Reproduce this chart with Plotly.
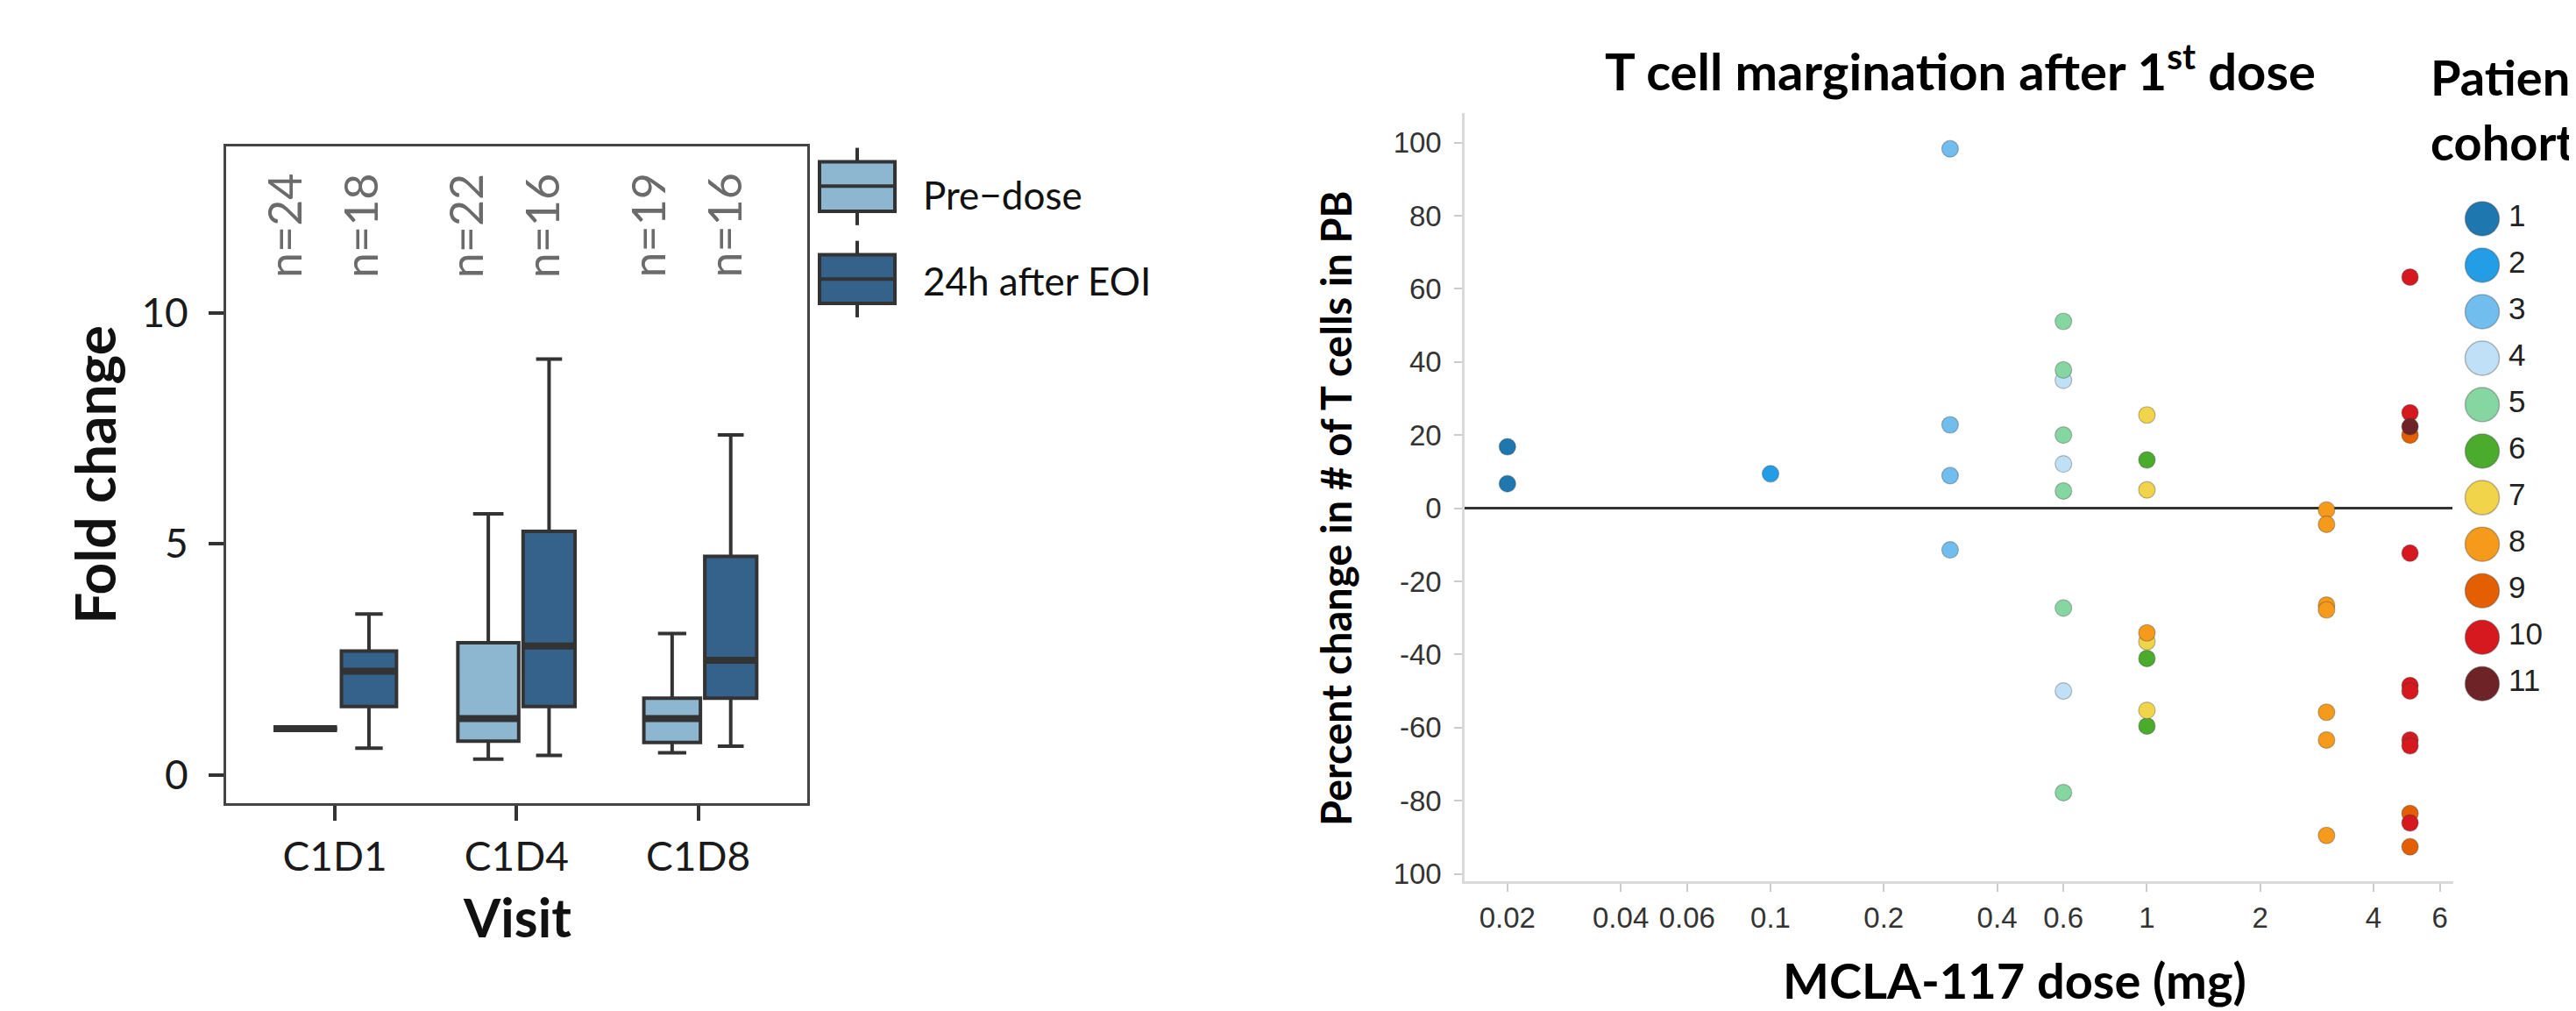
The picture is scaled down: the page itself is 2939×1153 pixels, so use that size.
import numpy as np
import plotly.graph_objects as go

W, H = 2939, 1153

# ---------------- Left panel data (box summaries) ----------------
visits = ["C1D1", "C1D4", "C1D8"]
group_names = ["Pre\u2212dose", "24h after EOI"]
n_pre = [24, 22, 19]
n_post = [18, 16, 16]
pre_lower = [1.0, 0.34, 0.48]
pre_q1 = [1.0, 0.73, 0.70]
pre_median = [1.0, 1.22, 1.22]
pre_q3 = [1.0, 2.86, 1.66]
pre_upper = [1.0, 5.65, 3.06]
post_lower = [0.58, 0.42, 0.62]
post_q1 = [1.48, 1.48, 1.66]
post_median = [2.245, 2.79, 2.48]
post_q3 = [2.68, 5.27, 4.73]
post_upper = [3.48, 9.0, 7.36]
fold_ticks = [0, 5, 10]

# ---------------- Right panel data (scatter) ----------------
cohorts = [1, 2, 3, 4, 5, 6, 7, 8, 9, 10, 11]
cohort_colors = ["#1f77b0", "#239ee6", "#70bdee", "#bfe0f7", "#86d6a2", "#4bab2c",
                 "#f2d44a", "#f69a1c", "#e35f02", "#d6191f", "#6e2426"]
point_cohort = [1, 1,
                2,
                3, 3, 3, 3,
                4, 4, 4,
                5, 5, 5, 5, 5, 5,
                6, 6, 6,
                7, 7, 7, 7,
                8, 8, 8, 8, 8, 8, 8, 8,
                9, 9, 9,
                10, 10, 10, 10, 10, 10, 10, 10,
                11]
point_dose = [0.02, 0.02,
              0.1,
              0.3, 0.3, 0.3, 0.3,
              0.6, 0.6, 0.6,
              0.6, 0.6, 0.6, 0.6, 0.6, 0.6,
              1, 1, 1,
              1, 1, 1, 1,
              1, 3, 3, 3, 3, 3, 3, 3,
              5, 5, 5,
              5, 5, 5, 5, 5, 5, 5, 5,
              5]
point_change = [16.8, 6.7,
                9.4,
                98.3, 22.8, 8.9, -11.4,
                35.0, 12.1, -50.0,
                51.1, 37.8, 20.0, 4.7, -27.3, -77.8,
                13.2, -41.1, -59.6,
                25.5, 5.0, -36.5, -55.3,
                -34.1, -0.5, -4.4, -26.5, -27.8, -55.8, -63.4, -89.5,
                20.0, -83.5, -92.6,
                63.2, 26.1, -12.3, -48.5, -50.0, -63.4, -65.0, -86.1,
                22.3]
dose_ticks = [0.02, 0.04, 0.06, 0.1, 0.2, 0.4, 0.6, 1, 2, 4, 6]
dose_tick_labels = ["0.02", "0.04", "0.06", "0.1", "0.2", "0.4", "0.6", "1", "2", "4", "6"]
change_ticks = [-100, -80, -60, -40, -20, 0, 20, 40, 60, 80, 100]
change_tick_labels = ["100", "-80", "-60", "-40", "-20", "0", "20", "40", "60", "80", "100"]

# ---------------- styles ----------------
PRE_FILL = "#8db6d1"
POST_FILL = "#34628b"
EDGE = "#333333"
LEFT_FONT = "Lato, Open Sans, sans-serif"
RIGHT_FONT = "Liberation Sans, Arial, sans-serif"


def px(x):
    return x / W


def py(y):
    return 1 - y / H


fig = go.Figure()

# ---------------- Left panel boxes ----------------
base_w = 0.35
groups = [
    (n_pre, pre_lower, pre_q1, pre_median, pre_q3, pre_upper, PRE_FILL, -1),
    (n_post, post_lower, post_q1, post_median, post_q3, post_upper, POST_FILL, +1),
]
nmax = max(n_pre + n_post)
for (ns, lo, q1, med, q3, up, fill, side) in groups:
    for i in range(len(visits)):
        w = base_w * np.sqrt(ns[i] / nmax)
        if side < 0:
            xc = i + 0.012 - w / 2
        else:
            xc = i + 0.036 + w / 2
        fig.add_trace(go.Box(
            x=[xc], q1=[q1[i]], median=[med[i]], q3=[q3[i]],
            lowerfence=[lo[i]], upperfence=[up[i]],
            width=w, fillcolor=fill, line=dict(color=EDGE, width=4),
            boxpoints=False, showlegend=False, hoverinfo="skip",
            xaxis="x", yaxis="y",
        ))
        # thicker median (ggplot fatten)
        fig.add_trace(go.Scatter(
            x=[xc - w / 2, xc + w / 2], y=[med[i], med[i]], mode="lines",
            line=dict(color=EDGE, width=8), showlegend=False, hoverinfo="skip",
            xaxis="x", yaxis="y",
        ))

# n labels
for i in range(len(visits)):
    for off, nn in ((-0.28, n_pre[i]), (0.14, n_post[i])):
        fig.add_annotation(x=i + off, y=10.72, xref="x", yref="y",
                           text=f"n={nn}", textangle=-90, showarrow=False,
                           xanchor="center", yanchor="bottom",
                           font=dict(family=LEFT_FONT, size=52, color="#6b6b6b"))

# ---------------- Right panel scatter ----------------
pc = np.array(point_cohort)
pdose = np.array(point_dose, dtype=float)
pchg = np.array(point_change, dtype=float)
for c, col in zip(cohorts, cohort_colors):
    m = pc == c
    fig.add_trace(go.Scatter(
        x=pdose[m], y=pchg[m], mode="markers",
        marker=dict(size=19, color=col, line=dict(color="rgba(60,60,60,0.35)", width=1.2)),
        showlegend=False, hoverinfo="skip", xaxis="x2", yaxis="y2",
    ))

# cohort legend (custom, large markers)
fig.add_trace(go.Scatter(
    x=[34] * len(cohorts), y=list(range(len(cohorts))), mode="markers",
    marker=dict(size=39, color=cohort_colors, line=dict(color="rgba(60,60,60,0.35)", width=1.5)),
    showlegend=False, hoverinfo="skip", xaxis="x3", yaxis="y3",
))
fig.add_trace(go.Scatter(
    x=[64] * len(cohorts), y=list(range(len(cohorts))), mode="text",
    text=[str(c) for c in cohorts], textposition="middle right",
    textfont=dict(family=RIGHT_FONT, size=35, color="#222222"),
    showlegend=False, hoverinfo="skip", xaxis="x3", yaxis="y3",
))

# ---------------- Layout ----------------
axis_font_left = dict(family=LEFT_FONT, size=46, color="#1a1a1a")
axis_font_right = dict(family=RIGHT_FONT, size=33, color="#333333")

fig.update_layout(
    width=W, height=H, margin=dict(l=0, r=0, t=0, b=0),
    paper_bgcolor="white", plot_bgcolor="white",
    showlegend=False,
    xaxis=dict(domain=[px(249.7), px(913)], range=[-0.6, 2.6], anchor="y",
               tickvals=list(range(len(visits))), ticktext=visits,
               showline=True, mirror=True, linecolor="#444444", linewidth=2.5,
               ticks="outside", ticklen=17, tickwidth=3.5, tickcolor=EDGE,
               showgrid=False, zeroline=False, tickfont=axis_font_left,
               ticklabelstandoff=2),
    yaxis=dict(domain=[py(916.3), py(160.6)], range=[-0.62, 13.6], anchor="x",
               tickvals=fold_ticks,
               showline=True, mirror=True, linecolor="#444444", linewidth=2.5,
               ticks="outside", ticklen=17, tickwidth=3.5, tickcolor=EDGE,
               showgrid=False, zeroline=False, tickfont=axis_font_left,
               ticklabelstandoff=14),
    xaxis2=dict(domain=[px(1663.3), px(2790.6)], type="log", range=[-1.812, 0.813],
                anchor="y2", tickvals=dose_ticks, ticktext=dose_tick_labels,
                showline=True, linecolor="#d9d9d9", linewidth=3,
                ticks="outside", ticklen=9, tickwidth=2, tickcolor="#cccccc",
                showgrid=False, zeroline=False, tickfont=axis_font_right,
                ticklabelstandoff=2),
    yaxis2=dict(domain=[py(1005.6), py(122.3)], range=[-102, 108], anchor="x2",
                tickvals=change_ticks, ticktext=change_tick_labels,
                showline=True, linecolor="#d9d9d9", linewidth=3,
                ticks="outside", ticklen=9, tickwidth=2, tickcolor="#cccccc",
                showgrid=False, zeroline=True, zerolinecolor="#333333", zerolinewidth=2.5,
                tickfont=axis_font_right, ticklabelstandoff=8),
    xaxis3=dict(domain=[px(2790), 1.0], range=[0, 149], anchor="y3", visible=False),
    yaxis3=dict(domain=[py(830), py(200)], range=[10.963, -0.813], anchor="x3", visible=False),
)

# axis titles & titles (left)
fig.add_annotation(x=px(100), y=py(538.5), xref="paper", yref="paper", text="<b>Fold change</b>",
                   textangle=-90, showarrow=False, xanchor="center", yanchor="middle",
                   font=dict(family=LEFT_FONT, size=64, color="#111111"))
fig.add_annotation(x=px(581.5), y=py(1047), xref="paper", yref="paper", text="<b>Visit</b>",
                   showarrow=False, xanchor="center", yanchor="middle",
                   font=dict(family=LEFT_FONT, size=61, color="#111111"))

# left legend keys
key_boxes = [(178, 235, 206, 162, 251, PRE_FILL), (285, 341, 313, 269, 357, POST_FILL)]
for (t, b, m, wt, wb, fill) in key_boxes:
    fig.add_shape(type="line", xref="paper", yref="paper", x0=px(970), x1=px(970),
                  y0=py(wt), y1=py(wb), line=dict(color=EDGE, width=4), layer="above")
    fig.add_shape(type="rect", xref="paper", yref="paper", x0=px(927), x1=px(1013),
                  y0=py(b), y1=py(t), fillcolor=fill, line=dict(color=EDGE, width=4), layer="above")
    fig.add_shape(type="line", xref="paper", yref="paper", x0=px(927), x1=px(1013),
                  y0=py(m), y1=py(m), line=dict(color=EDGE, width=4), layer="above")
for name, yc in zip(group_names, [215.6, 315]):
    fig.add_annotation(x=px(1043), y=py(yc), xref="paper", yref="paper", text=name,
                       showarrow=False, xanchor="left", yanchor="middle",
                       font=dict(family=LEFT_FONT, size=44, color="#111111"))

# right titles
fig.add_annotation(x=px(2228), y=py(70), xref="paper", yref="paper",
                   text="<b>T cell margination after 1<sup>st</sup> dose</b>",
                   showarrow=False, xanchor="center", yanchor="middle",
                   font=dict(family=LEFT_FONT, size=58, color="#000000"))
fig.add_annotation(x=px(1516), y=py(577), xref="paper", yref="paper",
                   text="<b>Percent change in # of T cells in PB</b>", textangle=-90,
                   showarrow=False, xanchor="center", yanchor="middle",
                   font=dict(family=LEFT_FONT, size=47, color="#000000"))
fig.add_annotation(x=px(2290), y=py(1119), xref="paper", yref="paper",
                   text="<b>MCLA-117 dose (mg)</b>",
                   showarrow=False, xanchor="center", yanchor="middle",
                   font=dict(family=LEFT_FONT, size=56, color="#000000"))
fig.add_annotation(x=px(2763), y=py(80), xref="paper", yref="paper",
                   text="<b>Patient</b>", showarrow=False, xanchor="left", yanchor="middle",
                   font=dict(family=LEFT_FONT, size=56, color="#000000"))
fig.add_annotation(x=px(2763), y=py(155), xref="paper", yref="paper",
                   text="<b>cohort</b>", showarrow=False, xanchor="left", yanchor="middle",
                   font=dict(family=LEFT_FONT, size=56, color="#000000"))

fig.write_html("out.html")
